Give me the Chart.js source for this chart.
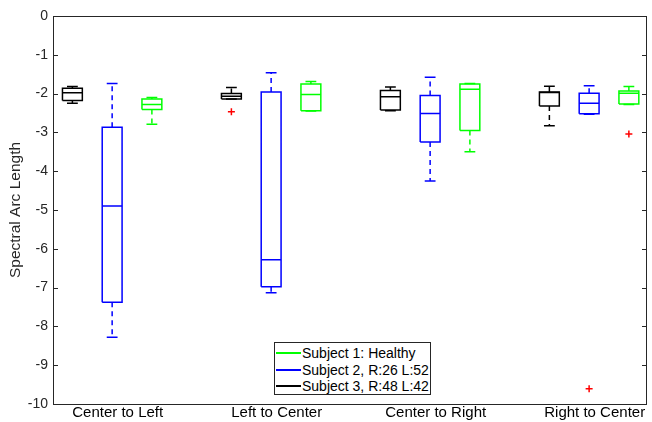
<!DOCTYPE html>
<html>
<head>
<meta charset="utf-8">
<script src="https://cdn.jsdelivr.net/npm/chart.js@4/dist/chart.umd.min.js"></script>
<style>
html,body{margin:0;padding:0;background:#fff;}
#wrap{position:relative;width:652px;height:422px;overflow:hidden;}
#legend{position:absolute;left:274px;top:342px;width:157px;height:53px;box-sizing:border-box;border:1px solid #262626;background:#fff;font:14px 'Liberation Sans',Arial,sans-serif;color:#000;padding-top:2px;}
.row{display:flex;align-items:center;height:16.5px;white-space:nowrap;}
.swatch{display:inline-block;width:25px;height:1.6px;margin-left:1px;margin-right:1px;flex:none;}
</style>
</head>
<body>
<div id="wrap"><canvas id="c" width="652" height="422"></canvas><div id="legend"></div></div>
<script>
// ---- data ----
const categories = ['Center to Left', 'Left to Center', 'Center to Right', 'Right to Center'];
const seriesNames = ['Subject 1: Healthy', 'Subject 2, R:26 L:52', 'Subject 3, R:48 L:42'];
const seriesColors = ['#00FF00', '#0000FF', '#000000'];

// Subject 1: Healthy (green)
const subject1Low    = [-2.79, -2.45, -3.50, -2.28];
const subject1Q1     = [-2.41, -2.44, -2.95, -2.27];
const subject1Median = [-2.28, -2.02, -1.89, -1.99];
const subject1Q3     = [-2.14, -1.75, -1.75, -1.93];
const subject1High   = [-2.10, -1.69, -1.74, -1.82];
const subject1Outliers = [[], [], [], [-3.04]];

// Subject 2, R:26 L:52 (blue)
const subject2Low    = [-8.28, -7.13, -4.25, -2.53];
const subject2Q1     = [-7.38, -6.98, -3.25, -2.52];
const subject2Median = [-4.90, -6.28, -2.51, -2.25];
const subject2Q3     = [-2.87, -1.96, -2.05, -1.99];
const subject2High   = [-1.74, -1.46, -1.58, -1.80];
const subject2Outliers = [[], [], [], [-9.61]];

// Subject 3, R:48 L:42 (black)
const subject3Low    = [-2.25, -2.14, -2.44, -2.83];
const subject3Q1     = [-2.18, -2.14, -2.42, -2.32];
const subject3Median = [-1.98, -2.07, -2.08, -1.97];
const subject3Q3     = [-1.86, -2.00, -1.92, -1.96];
const subject3High   = [-1.82, -1.84, -1.83, -1.81];
const subject3Outliers = [[], [-2.47], [], []];

const yTicksMin = -10, yTicksMax = 0, yTickStep = 1;

// ---- layout constants (not data) ----
const groupOffsets = [0.215, -0.035, -0.285]; // subject1, subject2, subject3 relative to category tick
const boxHalf = 0.0625;
const capHalf = 0.034;

const stats = [
  {low: subject1Low, q1: subject1Q1, med: subject1Median, q3: subject1Q3, high: subject1High, out: subject1Outliers},
  {low: subject2Low, q1: subject2Q1, med: subject2Median, q3: subject2Q3, high: subject2High, out: subject2Outliers},
  {low: subject3Low, q1: subject3Q1, med: subject3Median, q3: subject3Q3, high: subject3High, out: subject3Outliers}
];

const gap = () => ({x: NaN, y: null});
const datasets = [];
[2, 1, 0].forEach(si => {
  const s = stats[si];
  const color = seriesColors[si];
  const boxPts = [], medPts = [], whiskPts = [], capPts = [], outPts = [];
  categories.forEach((c, ci) => {
    const cx = ci + 1 + groupOffsets[si];
    boxPts.push({x: cx - boxHalf, y: s.q1[ci]}, {x: cx + boxHalf, y: s.q1[ci]},
                {x: cx + boxHalf, y: s.q3[ci]}, {x: cx - boxHalf, y: s.q3[ci]},
                {x: cx - boxHalf, y: s.q1[ci]}, gap());
    medPts.push({x: cx - boxHalf, y: s.med[ci]}, {x: cx + boxHalf, y: s.med[ci]}, gap());
    whiskPts.push({x: cx, y: s.q3[ci]}, {x: cx, y: s.high[ci]}, gap(),
                  {x: cx, y: s.q1[ci]}, {x: cx, y: s.low[ci]}, gap());
    capPts.push({x: cx - capHalf, y: s.high[ci]}, {x: cx + capHalf, y: s.high[ci]}, gap(),
                {x: cx - capHalf, y: s.low[ci]}, {x: cx + capHalf, y: s.low[ci]}, gap());
    s.out[ci].forEach(v => outPts.push({x: cx, y: v}));
  });
  const lineBase = {type: 'line', borderColor: color, borderWidth: 1.5, pointRadius: 0,
                    pointHoverRadius: 0, fill: false, tension: 0, spanGaps: false};
  datasets.push(Object.assign({}, lineBase, {label: seriesNames[si] + ' whisker', data: whiskPts, borderDash: [5, 4]}));
  datasets.push(Object.assign({}, lineBase, {label: seriesNames[si] + ' cap', data: capPts}));
  datasets.push(Object.assign({}, lineBase, {label: seriesNames[si] + ' box', data: boxPts}));
  datasets.push(Object.assign({}, lineBase, {label: seriesNames[si] + ' median', data: medPts}));
  datasets.push({type: 'scatter', label: seriesNames[si] + ' outliers', data: outPts, showLine: false,
                 pointStyle: 'cross', pointRadius: 3.5, borderColor: '#FF0000', backgroundColor: '#FF0000',
                 borderWidth: 1.5, pointHoverRadius: 3.5});
});

const framePlugin = {
  id: 'frame',
  afterDraw(chart) {
    const {ctx, chartArea: a, scales} = chart;
    ctx.save();
    ctx.strokeStyle = '#262626';
    ctx.lineWidth = 1;
    ctx.strokeRect(Math.round(a.left) + 0.5, Math.round(a.top) + 0.5,
                   Math.round(a.right - a.left) - 1, Math.round(a.bottom - a.top));
    const y = scales.y;
    ctx.beginPath();
    y.ticks.forEach(t => {
      const py = Math.round(y.getPixelForValue(t.value)) + 0.5;
      ctx.moveTo(a.left, py); ctx.lineTo(a.left + 5, py);
      ctx.moveTo(a.right - 5, py); ctx.lineTo(a.right, py);
    });
    ctx.stroke();
    ctx.restore();
  }
};

Chart.defaults.font.family = "'Liberation Sans', Arial, sans-serif";
Chart.defaults.animation = false;

new Chart(document.getElementById('c'), {
  type: 'line',
  data: {datasets},
  options: {
    responsive: false,
    animation: false,
    events: [],
    layout: {padding: {top: 16, right: 2, left: 0, bottom: 0}},
    plugins: {legend: {display: false}, tooltip: {enabled: false}},
    scales: {
      x: {
        type: 'linear', min: 0.593, max: 4.329,
        afterBuildTicks: s => { s.ticks = categories.map((_, i) => ({value: i + 1})); },
        ticks: {autoSkip: false, maxRotation: 0, minRotation: 0, color: '#000', font: {size: 15}, padding: 0,
                callback: v => categories[Math.round(v) - 1] || ''},
        grid: {display: false, drawTicks: false},
        border: {display: false},
        afterFit: s => { s.height = 18; }
      },
      y: {
        type: 'linear', min: yTicksMin, max: yTicksMax,
        ticks: {stepSize: yTickStep, color: '#262626', font: {size: 14}, padding: 5},
        grid: {display: false, drawTicks: false},
        border: {display: false},
        title: {display: true, text: 'Spectral Arc Length', color: '#262626', font: {size: 15.5}, padding: {top: 6, bottom: 0}},
        afterFit: s => { s.width = 53; }
      }
    }
  },
  plugins: [framePlugin]
});

// legend (HTML overlay)
const lg = document.getElementById('legend');
seriesNames.forEach((n, i) => {
  const row = document.createElement('div');
  row.className = 'row';
  const sw = document.createElement('span');
  sw.className = 'swatch';
  sw.style.backgroundColor = seriesColors[i];
  const tx = document.createElement('span');
  tx.textContent = n;
  row.appendChild(sw); row.appendChild(tx);
  lg.appendChild(row);
});
</script>
</body>
</html>
